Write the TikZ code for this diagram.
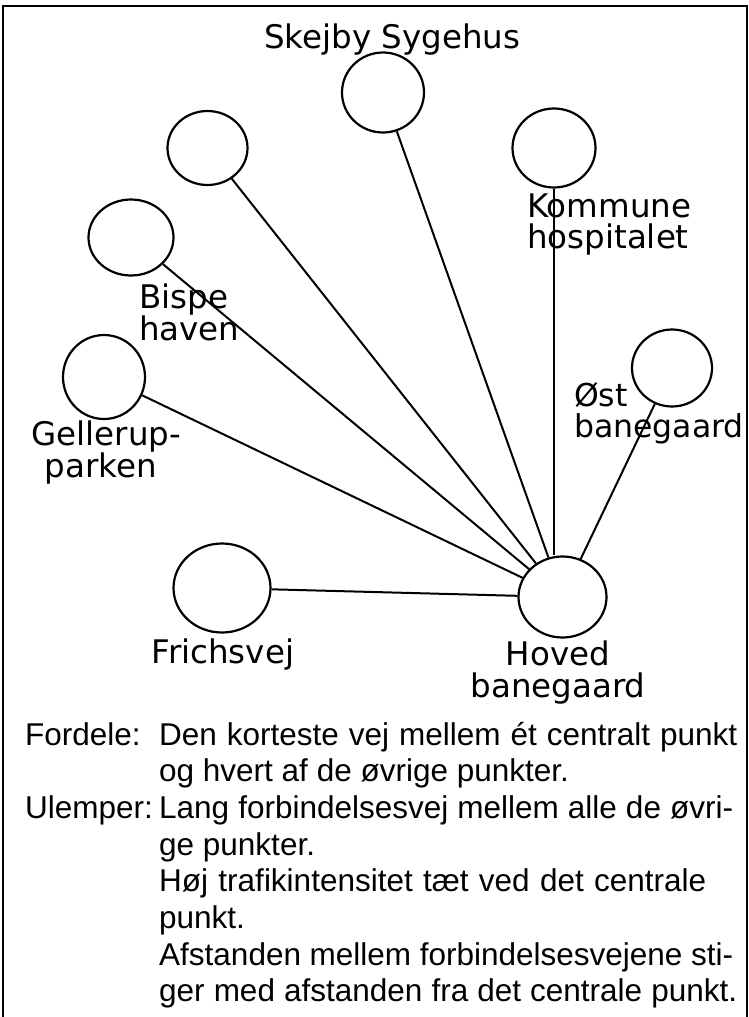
\documentclass[tikz,border=0pt]{standalone}
\usepackage{fontspec}
\setmainfont{Liberation Sans}
\newfontfamily\labelfont{DejaVu Sans}
\usetikzlibrary{shapes.geometric}

\begin{document}
\begin{tikzpicture}[
    x=1pt, y=-1pt,
    stop/.style={ellipse, draw, line width=2.2pt, inner sep=0pt},
    lbl/.style={font=\labelfont\fontsize{32.5}{31.5}\selectfont, inner sep=0pt, anchor=base west, align=left},
    link/.style={line width=2pt}
]
\useasboundingbox (0,0) rectangle (749,1017);

% Frame
\draw[line width=1.6pt] (3,1017) -- (3,6) -- (747,6) -- (747,1017);

% Stations
\node[stop, minimum width=82pt, minimum height=80pt] (skejby) at (383,92.5) {};
\node[stop, minimum width=80pt, minimum height=74pt] (nord) at (207.5,148) {};
\node[stop, minimum width=85pt, minimum height=76pt] (bispe) at (131,237.5) {};
\node[stop, minimum width=83pt, minimum height=79pt] (komm) at (554,148) {};
\node[stop, minimum width=82pt, minimum height=84pt] (gell) at (104,377) {};
\node[stop, minimum width=80pt, minimum height=77pt] (oest) at (672,368) {};
\node[stop, minimum width=97pt, minimum height=89pt] (frich) at (222,588) {};
\node[stop, minimum width=88pt, minimum height=81pt] (hoved) at (562.5,597) {};

% Names (base = last line)
\node[lbl] (skejbytxt) at (264,48.5) {Skejby Sygehus};
\node[lbl] (kommtxt) at (527,248.5) {Kommune\\hospitalet};
\node[lbl] (bispetxt) at (139,340) {Bispe\\haven};
\node[lbl] (gelltxt) at (31.5,477) {Gellerup-\\\hspace*{13pt}parken};
\node[lbl, font=\labelfont\fontsize{31.5}{31.5}\selectfont] (oesttxt) at (574,437.5) {Øst\\banegaard};
\node[lbl] (frichtxt) at (151.5,663.5) {Frichsvej};
\node[lbl, align=center, anchor=base] (hovedtxt) at (558,697) {Hoved\\banegaard};

% Star lines
\draw[link] (hoved) -- (skejby);
\draw[link] (hoved) -- (nord);
\draw[link] (hoved) -- (bispe);
\draw[link] (hoved) -- (gell);
\draw[link] (hoved) -- (frich);
\draw[link] (hoved) -- (oest);
\draw[link] (komm) -- (komm |- hoved.north);

% Notes
\node[anchor=base west, inner sep=0pt, font=\fontsize{31.5}{36.7}\selectfont] (notes) at (25,745) {%
\begin{tabular}[t]{@{}l@{}l@{}}
\makebox[134pt][l]{Fordele:} & \makebox[578pt][s]{Den korteste vej mellem ét centralt punkt}\\
 & og hvert af de øvrige punkter.\\
Ulemper: & \makebox[574pt][s]{Lang forbindelsesvej mellem alle de øvri-}\\
 & ge punkter.\\
 & \makebox[547pt][s]{Høj trafikintensitet tæt ved det centrale}\\
 & punkt.\\
 & \makebox[574pt][s]{Afstanden mellem forbindelsesvejene sti-}\\
 & \makebox[578pt][s]{ger med afstanden fra det centrale punkt.}
\end{tabular}};

\end{tikzpicture}
\end{document}
